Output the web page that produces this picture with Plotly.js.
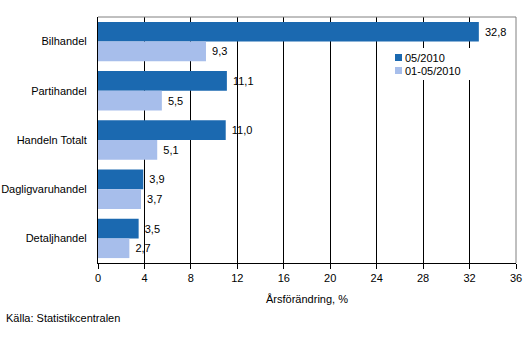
<!DOCTYPE html>
<html><head><meta charset="utf-8">
<script src="https://cdn.plot.ly/plotly-3.0.1.min.js"></script>
<style>body{margin:0;padding:0;background:#fff}#c{width:530px;height:357px}</style>
</head><body><div id="c"></div>
<script>
const categories = ["Bilhandel", "Partihandel", "Handeln Totalt", "Dagligvaruhandel", "Detaljhandel"];
const seriesNames = ["05/2010", "01-05/2010"];
const seriesColors = ['#1B69B0', '#A7BEEB'];
const valuesMonth = [32.8, 11.1, 11.0, 3.9, 3.5];
const valuesPeriod = [9.3, 5.5, 5.1, 3.7, 2.7];
const xTicks = [0, 4, 8, 12, 16, 20, 24, 28, 32, 36];

const fmt = v => v.toFixed(1).replace('.', ',');
const font = {family: '"Liberation Sans", Arial, sans-serif', size: 11, color: '#000'};

const traces = [
  {type: 'bar', orientation: 'h', name: seriesNames[0], y: categories, x: valuesMonth,
   marker: {color: seriesColors[0]}, text: valuesMonth.map(v => ' ' + fmt(v)), textposition: 'outside',
   textfont: font, cliponaxis: false},
  {type: 'bar', orientation: 'h', name: seriesNames[1], y: categories, x: valuesPeriod,
   marker: {color: seriesColors[1]}, text: valuesPeriod.map(v => ' ' + fmt(v)), textposition: 'outside',
   textfont: font, cliponaxis: false}
];

// plot area in pixels: left 98, right 516, top 17, bottom 263
const px = x => (x - 98) / 418;
const py = y => (263 - y) / 246;

const shapes = [
  {type: 'line', xref: 'paper', yref: 'paper', x0: 0, x1: 1, y0: 1, y1: 1,
   line: {color: '#808080', width: 1}, layer: 'above'},
  {type: 'line', xref: 'paper', yref: 'paper', x0: 1, x1: 1, y0: 0, y1: 1,
   line: {color: '#808080', width: 1}, layer: 'above'},
  // legend background
  {type: 'rect', xref: 'paper', yref: 'paper', x0: px(390), x1: px(505), y0: py(80), y1: py(48),
   fillcolor: '#fff', line: {width: 0}, layer: 'above'}
];
const annotations = [
  {text: 'Källa: Statistikcentralen', xref: 'paper', yref: 'paper',
   x: px(4), y: py(318), xanchor: 'left', yanchor: 'middle', showarrow: false, font: font}
];
seriesNames.forEach((n, i) => {
  const cy = 57.5 + i * 13;
  shapes.push({type: 'rect', xref: 'paper', yref: 'paper', x0: px(395), x1: px(402),
    y0: py(cy + 3.5), y1: py(cy - 3.5), fillcolor: seriesColors[i], line: {width: 0}, layer: 'above'});
  annotations.push({text: n, xref: 'paper', yref: 'paper', x: px(403), y: py(cy),
    xanchor: 'left', yanchor: 'middle', showarrow: false, font: font});
});

const layout = {
  width: 530, height: 357,
  margin: {l: 98, r: 14, t: 17, b: 94},
  paper_bgcolor: '#fff', plot_bgcolor: '#fff',
  font: font,
  barmode: 'group', bargap: 0.2, bargroupgap: 0,
  showlegend: false,
  xaxis: {range: [0, 36], tickvals: xTicks, ticktext: xTicks.map(String),
          showgrid: true, gridcolor: '#000', gridwidth: 1,
          showline: true, linecolor: '#000', linewidth: 1,
          ticks: 'outside', ticklen: 5, tickcolor: '#000', zeroline: false,
          tickfont: font,
          title: {text: 'Årsförändring, %', font: font, standoff: 12}},
  yaxis: {autorange: 'reversed', showline: true, linecolor: '#000', linewidth: 1,
          showgrid: false, ticks: '', tickfont: font, ticklabelstandoff: 8},
  shapes: shapes,
  annotations: annotations
};

Plotly.newPlot('c', traces, layout, {displayModeBar: false, staticPlot: true});
</script>
</body></html>
